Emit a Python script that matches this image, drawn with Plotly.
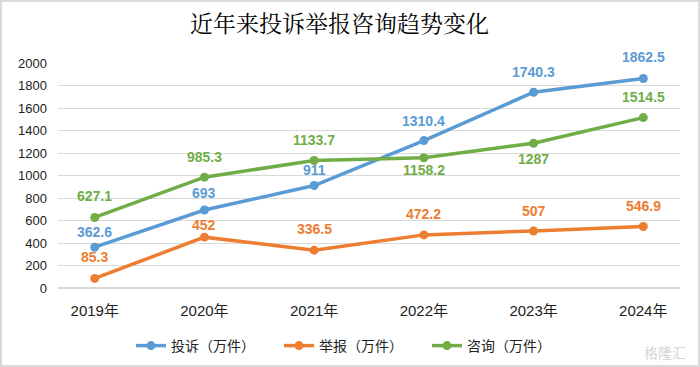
import plotly.graph_objects as go

years = ["2019年", "2020年", "2021年", "2022年", "2023年", "2024年"]
complaints = [362.6, 693, 911, 1310.4, 1740.3, 1862.5]
reports = [85.3, 452, 336.5, 472.2, 507, 546.9]
consults = [627.1, 985.3, 1133.7, 1158.2, 1287, 1514.5]

# label vertical offsets in pixels (positive = above the point)
complaints_label_shift = [15, 17, 16, 20, 20, 21]
reports_label_shift = [21, 12, 21, 21, 20, 20]
consults_label_shift = [21, 20, 20, -12, -16, 21]

series = [
    ("投诉（万件）", complaints, "#5B9BD5", complaints_label_shift),
    ("举报（万件）", reports, "#ED7D31", reports_label_shift),
    ("咨询（万件）", consults, "#70AD47", consults_label_shift),
]

W, H = 700, 367
L, R, T, B = 58, 680, 63, 288
PW, PH = R - L, B - T


def px(x):
    return (x - L) / PW


def py(y):
    return (B - y) / PH


font_family = "Liberation Sans, Noto Sans CJK SC, sans-serif"
fig = go.Figure()
annotations = []
for name, vals, color, shifts in series:
    fig.add_trace(go.Scatter(
        x=years, y=vals, name=name, mode="lines+markers",
        line=dict(color=color, width=3.5),
        marker=dict(color=color, size=9),
    ))
    for x, v, s in zip(years, vals, shifts):
        annotations.append(dict(
            x=x, y=v, xref="x", yref="y", text=f"<b>{v:g}</b>", showarrow=False,
            yshift=s,
            font=dict(color=color, size=14, family="Liberation Sans, DejaVu Sans, sans-serif"),
        ))

annotations.append(dict(
    text="近年来投诉举报咨询趋势变化", x=px(339), y=py(23), xref="paper", yref="paper",
    xanchor="center", yanchor="middle", showarrow=False,
    font=dict(size=23, color="#000000", family="Noto Serif CJK SC, Noto Sans CJK SC, serif"),
))
annotations.append(dict(
    text="格隆汇", x=px(665), y=py(352), xref="paper", yref="paper",
    xanchor="center", yanchor="middle", showarrow=False,
    font=dict(size=14, color="#d4d4d4", family="Noto Sans CJK SC, sans-serif"),
))

fig.update_layout(
    width=W, height=H,
    margin=dict(l=L, r=W - R, t=T, b=H - B, autoexpand=False),
    paper_bgcolor="white", plot_bgcolor="white",
    font=dict(family=font_family, size=13, color="#222222"),
    showlegend=True,
    legend=dict(orientation="h", x=px(131), y=py(346), xanchor="left", yanchor="middle",
                font=dict(size=14, color="#222222", family="Noto Sans CJK SC, sans-serif"),
                itemwidth=30, entrywidth=103, entrywidthmode="pixels"),
    annotations=annotations,
    shapes=[dict(type="rect", xref="paper", yref="paper", x0=px(1), y0=py(366), x1=px(699), y1=py(1),
                 line=dict(color="#d9d9d9", width=2))],
)
fig.update_xaxes(showline=False, showgrid=False, ticks="", automargin=False, ticklabelstandoff=12,
                 tickfont=dict(size=15, family="Liberation Sans, Noto Sans CJK SC, sans-serif"))
fig.update_yaxes(range=[0, 2000], dtick=200, automargin=False,
                 showgrid=True, gridcolor="#d9d9d9", gridwidth=1, zeroline=True,
                 zerolinecolor="#d9d9d9", showline=False, ticks="", ticklabelstandoff=10,
                 tickfont=dict(size=13, family="Liberation Sans, sans-serif"))

fig.write_html("out.html", post_script="document.body.style.margin='0';",
               config={"displayModeBar": False})
